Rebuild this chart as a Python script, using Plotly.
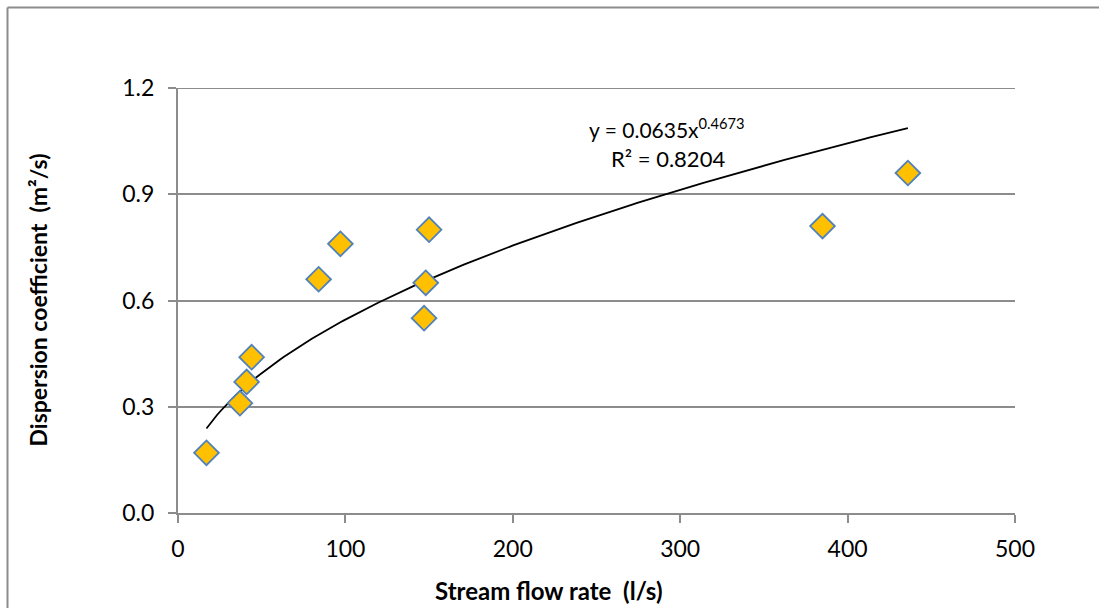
import numpy as np
import plotly.graph_objects as go

# Data
flow_rate = [17, 37, 41, 44, 84, 97, 147, 148, 150, 385, 436]
dispersion = [0.17, 0.31, 0.37, 0.44, 0.66, 0.76, 0.55, 0.65, 0.80, 0.81, 0.96]

# Power trendline coefficients (as shown in chart)
coef_a = 0.0635
coef_b = 0.4673
r_squared = 0.8204

x_ticks = [0, 100, 200, 300, 400, 500]
y_ticks = [0.0, 0.3, 0.6, 0.9, 1.2]
y_tick_text = ["0.0", "0.3", "0.6", "0.9", "1.2"]

trend_x = np.linspace(min(flow_rate), max(flow_rate), 200)
trend_y = coef_a * trend_x ** coef_b

FONT = "Lato, 'Open Sans', sans-serif"
GRAY = "#8c8c8c"

fig = go.Figure()
fig.add_trace(go.Scatter(
    x=trend_x, y=trend_y, mode="lines",
    line=dict(color="black", width=1.8), showlegend=False, hoverinfo="skip"))
fig.add_trace(go.Scatter(
    x=flow_rate, y=dispersion, mode="markers",
    marker=dict(symbol="diamond", size=19, color="#FFC000",
                line=dict(color="#4F81BD", width=1.8)),
    showlegend=False))

fig.update_layout(
    width=1099, height=608,
    margin=dict(l=178, r=84, t=88, b=95),
    paper_bgcolor="white", plot_bgcolor="white",
    font=dict(family=FONT, size=23, color="black"),
    xaxis=dict(range=[0, 500], tickvals=x_ticks, showgrid=False, zeroline=False,
               showline=True, linecolor=GRAY, linewidth=2,
               ticks="outside", ticklen=8, tickcolor=GRAY, tickwidth=2,
               ticklabelstandoff=6,
               tickfont=dict(size=23), fixedrange=True),
    yaxis=dict(range=[0, 1.2], tickvals=y_ticks, ticktext=y_tick_text,
               showgrid=True, gridcolor=GRAY, gridwidth=1.5, zeroline=False,
               showline=True, linecolor=GRAY, linewidth=2,
               ticks="outside", ticklen=8, tickcolor=GRAY, tickwidth=2,
               ticklabelstandoff=9,
               tickfont=dict(size=23), fixedrange=True),
    shapes=[
        dict(type="line", xref="paper", yref="y", x0=0, x1=1,
             y0=y_ticks[-1], y1=y_ticks[-1], line=dict(color=GRAY, width=2)),
        dict(type="line", xref="paper", yref="paper", x0=-0.2037, x1=1.2,
             y0=1.1894, y1=1.1894, line=dict(color=GRAY, width=2)),
        dict(type="line", xref="paper", yref="paper", x0=-0.2037, x1=-0.2037,
             y0=1.1894, y1=-0.3, line=dict(color=GRAY, width=2)),
    ],
    annotations=[
        dict(text="<b>Stream flow rate  (l/s)</b>", xref="paper", yref="paper",
             x=(548 - 178) / 837, y=(513 - 590) / 425, showarrow=False,
             xanchor="center", yanchor="middle", font=dict(size=24)),
        dict(text="<b>Dispersion coefficient  (m²/s)</b>", xref="paper", yref="paper",
             x=(37 - 178) / 837, y=0.5, showarrow=False, textangle=-90,
             xanchor="center", yanchor="middle", font=dict(size=23)),
        dict(text=f"y = {coef_a}x<sup>{coef_b}</sup>", xref="paper", yref="paper",
             x=(667 - 178) / 837, y=(513 - 128) / 425, showarrow=False,
             xanchor="center", yanchor="middle", font=dict(size=21)),
        dict(text=f"R² = {r_squared}", xref="paper", yref="paper",
             x=(668 - 178) / 837, y=(513 - 158) / 425, showarrow=False,
             xanchor="center", yanchor="middle", font=dict(size=22)),
    ],
)

fig.write_html("out.html")
